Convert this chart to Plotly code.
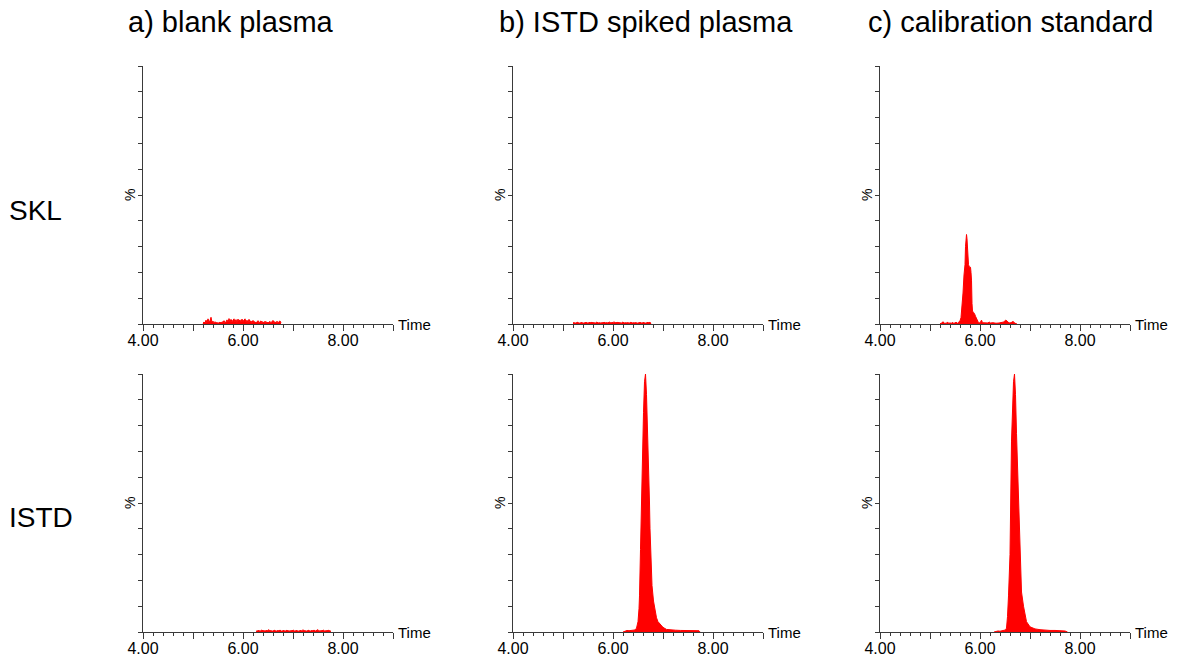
import plotly.graph_objects as go

W, H = 1192, 661

col_titles = ["a) blank plasma", "b) ISTD spiked plasma", "c) calibration standard"]
row_labels = ["SKL", "ISTD"]
x_tick_vals = [4, 5, 6, 7, 8, 9]
x_tick_text = ["4.00", "", "6.00", "", "8.00", ""]

# ---- a) blank plasma, SKL channel (noise) ----
a_skl_t = [5.20, 5.22, 5.24, 5.26, 5.28, 5.30, 5.32, 5.34, 5.36, 5.38,
           5.40, 5.42, 5.44, 5.46, 5.48, 5.50, 5.52, 5.54, 5.56, 5.58,
           5.60, 5.62, 5.64, 5.66, 5.68, 5.70, 5.72, 5.74, 5.76, 5.78,
           5.80, 5.82, 5.84, 5.86, 5.88, 5.90, 5.92, 5.94, 5.96, 5.98,
           6.00, 6.02, 6.04, 6.06, 6.08, 6.10, 6.12, 6.14, 6.16, 6.18,
           6.20, 6.22, 6.24, 6.26, 6.28, 6.30, 6.32, 6.34, 6.36, 6.38,
           6.40, 6.42, 6.44, 6.46, 6.48, 6.50, 6.52, 6.54, 6.56, 6.58,
           6.60, 6.62, 6.64, 6.66, 6.68, 6.70, 6.72, 6.74, 6.76]
a_skl_v = [0.3, 0.8, 0.4, 1.5, 0.6, 2.0, 0.9, 1.2, 2.6, 0.7,
           1.1, 0.5, 0.9, 0.4, 0.6, 0.3, 0.5, 0.7, 0.4, 0.9,
           0.6, 1.3, 0.5, 0.8, 1.6, 0.7, 2.1, 1.0, 1.8, 0.9,
           1.5, 2.0, 0.8, 1.7, 0.6, 1.9, 1.1, 1.6, 0.7, 1.9,
           1.0, 1.4, 2.0, 0.8, 1.5, 0.6, 1.8, 0.9, 1.2, 0.5,
           1.4, 0.7, 0.9, 0.4, 1.0, 1.3, 0.5, 0.8, 1.2, 0.6,
           0.9, 0.4, 1.1, 0.6, 0.8, 0.4, 0.9, 1.0, 0.5, 0.8,
           1.4, 0.6, 0.9, 0.4, 1.1, 0.5, 0.8, 1.2, 0.4]

# ---- a) blank plasma, ISTD channel (noise) ----
a_istd_t = [6.26, 6.28, 6.30, 6.32, 6.34, 6.36, 6.38, 6.40, 6.42, 6.44,
            6.46, 6.48, 6.50, 6.52, 6.54, 6.56, 6.58, 6.60, 6.62, 6.64,
            6.66, 6.68, 6.70, 6.72, 6.74, 6.76, 6.78, 6.80, 6.82, 6.84,
            6.86, 6.88, 6.90, 6.92, 6.94, 6.96, 6.98, 7.00, 7.02, 7.04,
            7.06, 7.08, 7.10, 7.12, 7.14, 7.16, 7.18, 7.20, 7.22, 7.24,
            7.26, 7.28, 7.30, 7.32, 7.34, 7.36, 7.38, 7.40, 7.42, 7.44,
            7.46, 7.48, 7.50, 7.52, 7.54, 7.56, 7.58, 7.60, 7.62, 7.64,
            7.66, 7.68, 7.70, 7.72, 7.74, 7.76]
a_istd_v = [0.3, 0.5, 0.4, 0.6, 0.3, 0.5, 0.8, 0.4, 0.6, 0.3,
            0.7, 0.4, 0.5, 0.9, 0.4, 0.6, 0.3, 0.5, 0.4, 0.7,
            0.3, 0.5, 0.6, 0.4, 0.8, 0.3, 0.5, 0.4, 0.6, 0.3,
            0.5, 0.7, 0.4, 0.5, 0.3, 0.6, 0.4, 0.8, 0.5, 0.3,
            0.6, 0.4, 0.5, 0.3, 0.7, 0.4, 0.5, 0.9, 0.4, 0.6,
            0.3, 0.5, 0.4, 0.7, 0.3, 0.5, 0.6, 0.4, 0.8, 0.3,
            0.5, 0.4, 0.9, 0.5, 0.3, 0.6, 0.4, 0.8, 0.5, 0.3,
            0.6, 0.4, 0.7, 0.5, 0.4, 0.3]

# ---- b) ISTD spiked plasma, SKL channel (noise) ----
b_skl_t = [5.20, 5.22, 5.24, 5.26, 5.28, 5.30, 5.32, 5.34, 5.36, 5.38,
           5.40, 5.42, 5.44, 5.46, 5.48, 5.50, 5.52, 5.54, 5.56, 5.58,
           5.60, 5.62, 5.64, 5.66, 5.68, 5.70, 5.72, 5.74, 5.76, 5.78,
           5.80, 5.82, 5.84, 5.86, 5.88, 5.90, 5.92, 5.94, 5.96, 5.98,
           6.00, 6.02, 6.04, 6.06, 6.08, 6.10, 6.12, 6.14, 6.16, 6.18,
           6.20, 6.22, 6.24, 6.26, 6.28, 6.30, 6.32, 6.34, 6.36, 6.38,
           6.40, 6.42, 6.44, 6.46, 6.48, 6.50, 6.52, 6.54, 6.56, 6.58,
           6.60, 6.62, 6.64, 6.66, 6.68, 6.70, 6.72, 6.74, 6.76]
b_skl_v = [0.4, 0.6, 0.3, 0.5, 0.4, 0.7, 0.3, 0.5, 0.4, 0.6,
           0.3, 0.5, 0.4, 0.6, 0.5, 0.3, 0.6, 0.4, 0.5, 0.7,
           0.4, 0.6, 0.3, 0.5, 0.8, 0.4, 0.6, 0.5, 0.3, 0.6,
           0.4, 0.7, 0.5, 0.4, 0.6, 0.3, 0.8, 0.5, 0.4, 0.6,
           0.5, 0.9, 0.4, 0.6, 0.5, 0.7, 0.4, 0.6, 0.3, 0.5,
           0.8, 0.4, 0.6, 0.5, 0.4, 0.6, 0.3, 0.5, 0.7, 0.4,
           0.6, 0.5, 0.4, 0.6, 0.3, 0.5, 0.4, 0.6, 0.5, 0.3,
           0.6, 0.4, 0.5, 0.3, 0.6, 0.4, 0.5, 0.7, 0.3]

# ---- b) ISTD spiked plasma, ISTD channel (peak) ----
b_istd_t = [6.20, 6.24, 6.28, 6.32, 6.36, 6.40, 6.44, 6.47, 6.50, 6.52,
            6.53, 6.55, 6.57, 6.59, 6.61, 6.63, 6.65, 6.67, 6.69, 6.71,
            6.73, 6.74, 6.76, 6.78, 6.81, 6.84, 6.87, 6.90, 6.94, 7.00,
            7.07, 7.15, 7.25, 7.35, 7.45, 7.55, 7.65, 7.72, 7.74]
b_istd_v = [0.0, 0.4, 0.6, 0.5, 0.6, 0.5, 0.8, 1.5, 4.0, 9.0,
            14.0, 32.0, 53.0, 72.0, 85.0, 97.0, 100.0, 92.0, 80.0, 66.0,
            50.0, 40.0, 27.0, 18.0, 12.0, 8.0, 5.5, 4.0, 3.0, 1.8,
            1.0, 0.8, 0.7, 0.6, 0.6, 0.5, 0.5, 0.5, 0.0]

# ---- c) calibration standard, SKL channel (peak) ----
c_skl_t = [5.20, 5.22, 5.24, 5.26, 5.28, 5.30, 5.33, 5.35, 5.37, 5.40,
           5.43, 5.45, 5.47, 5.50, 5.52, 5.55, 5.58, 5.60, 5.62, 5.64,
           5.66, 5.68, 5.70, 5.71, 5.72, 5.73, 5.74, 5.75, 5.76, 5.77,
           5.79, 5.81, 5.82, 5.83, 5.84, 5.85, 5.87, 5.89, 5.91, 5.93,
           5.95, 5.97, 6.00, 6.03, 6.05, 6.08, 6.12, 6.16, 6.18, 6.21,
           6.26, 6.32, 6.38, 6.44, 6.48, 6.51, 6.54, 6.58, 6.62, 6.66,
           6.70, 6.74]
c_skl_v = [0.0, 0.4, 0.3, 0.9, 0.3, 0.4, 0.3, 0.8, 0.3, 0.4,
           0.3, 0.7, 0.3, 0.4, 0.7, 0.3, 0.8, 1.2, 2.5, 6.0,
           12.0, 19.0, 23.0, 30.0, 33.0, 34.7, 33.0, 30.0, 25.0, 23.0,
           22.0, 22.0, 20.0, 17.0, 8.0, 5.0, 4.5, 4.0, 3.0, 2.0,
           1.0, 0.5, 0.4, 1.5, 0.5, 0.4, 0.5, 0.4, 0.8, 0.4,
           0.5, 0.3, 0.4, 0.5, 0.8, 1.5, 1.2, 0.4, 0.5, 1.0,
           0.3, 0.0]

# ---- c) calibration standard, ISTD channel (peak) ----
c_istd_t = [6.28, 6.32, 6.36, 6.40, 6.44, 6.48, 6.51, 6.53, 6.55, 6.57,
            6.60, 6.63, 6.65, 6.67, 6.69, 6.71, 6.73, 6.75, 6.77, 6.80,
            6.83, 6.87, 6.90, 6.93, 7.00, 7.10, 7.20, 7.30, 7.40, 7.50,
            7.60, 7.70, 7.75]
c_istd_v = [0.0, 0.3, 0.4, 0.3, 0.5, 0.6, 0.8, 1.5, 6.0, 14.0,
            30.0, 74.0, 90.0, 97.0, 100.0, 92.0, 77.0, 64.0, 52.0, 28.0,
            15.5, 10.0, 6.5, 4.0, 2.0, 1.2, 0.9, 0.7, 0.6, 0.6,
            0.5, 0.4, 0.0]

panels = [
    (0, 0, a_skl_t, a_skl_v), (0, 1, b_skl_t, b_skl_v), (0, 2, c_skl_t, c_skl_v),
    (1, 0, a_istd_t, a_istd_v), (1, 1, b_istd_t, b_istd_v), (1, 2, c_istd_t, c_istd_v),
]

# pixel geometry
col_left = [143, 513, 880]
plot_w = 250
row_top = [66, 374]
plot_h = 258
axis_col = "#3a3a3a"
FONT = "Arial, Liberation Sans, sans-serif"

fig = go.Figure()
layout = dict(
    template="none",
    width=W, height=H, margin=dict(l=0, r=0, t=0, b=0, pad=0, autoexpand=False),
    paper_bgcolor="white", plot_bgcolor="white", showlegend=False,
    font=dict(family=FONT, color="black"),
)
annotations = []

for i, (r, c, t, v) in enumerate(panels):
    sid = "" if i == 0 else str(i + 1)
    fig.add_trace(go.Scatter(
        x=t, y=v, mode="lines", fill="tozeroy",
        line=dict(color="#ff0000", width=1), fillcolor="#ff0000",
        xaxis="x" + sid, yaxis="y" + sid, hoverinfo="skip",
    ))
    x0 = col_left[c] / W
    x1 = (col_left[c] + plot_w) / W
    y1 = 1 - row_top[r] / H
    y0 = 1 - (row_top[r] + plot_h) / H
    layout["xaxis" + sid] = dict(
        domain=[x0, x1], range=[4, 9], anchor="y" + sid, automargin=False,
        showgrid=False, zeroline=False, showline=True, linecolor=axis_col, linewidth=1,
        ticks="outside", ticklen=6, tickcolor=axis_col, tickwidth=1,
        tickvals=x_tick_vals, ticktext=x_tick_text, ticklabelstandoff=-4,
        tickfont=dict(size=16, family=FONT, color="black"),
        minor=dict(ticks="outside", ticklen=3, tick0=4, dtick=0.2, tickcolor=axis_col, tickwidth=1,
                   showgrid=False),
        fixedrange=True,
    )
    layout["yaxis" + sid] = dict(
        domain=[y0, y1], range=[0, 100], anchor="x" + sid, automargin=False,
        showgrid=False, zeroline=False, showline=True, linecolor=axis_col, linewidth=1,
        ticks="outside", ticklen=4, tickcolor=axis_col, tickwidth=1,
        tickvals=[0, 10, 20, 30, 40, 50, 60, 70, 80, 90, 100],
        showticklabels=False, fixedrange=True,
    )
    annotations.append(dict(
        xref="x" + sid, yref="y" + sid, x=9, y=0, xshift=3,
        text="Time", showarrow=False, xanchor="left", yanchor="middle",
        font=dict(size=15, family=FONT, color="black"),
    ))
    annotations.append(dict(
        xref="paper", yref="y" + sid, x=(col_left[c] - 13) / W, y=50,
        text="%", showarrow=False, textangle=-90, xanchor="center", yanchor="middle",
        font=dict(size=14, family=FONT, color="black"),
    ))

title_x = [231, 646, 1010]
for c, txt in enumerate(col_titles):
    annotations.append(dict(
        xref="paper", yref="paper", x=title_x[c] / W, y=1 - 22 / H,
        text=txt, showarrow=False, xanchor="center", yanchor="middle",
        font=dict(size=29, family=FONT, color="black"),
    ))

row_y = [210, 517]
for r, txt in enumerate(row_labels):
    annotations.append(dict(
        xref="paper", yref="paper", x=7 / W, y=1 - row_y[r] / H,
        text=txt, showarrow=False, xanchor="left", yanchor="middle",
        font=dict(size=28, family=FONT, color="black"),
    ))

layout["annotations"] = annotations
fig.update_layout(**layout)
fig.write_html("out.html")
